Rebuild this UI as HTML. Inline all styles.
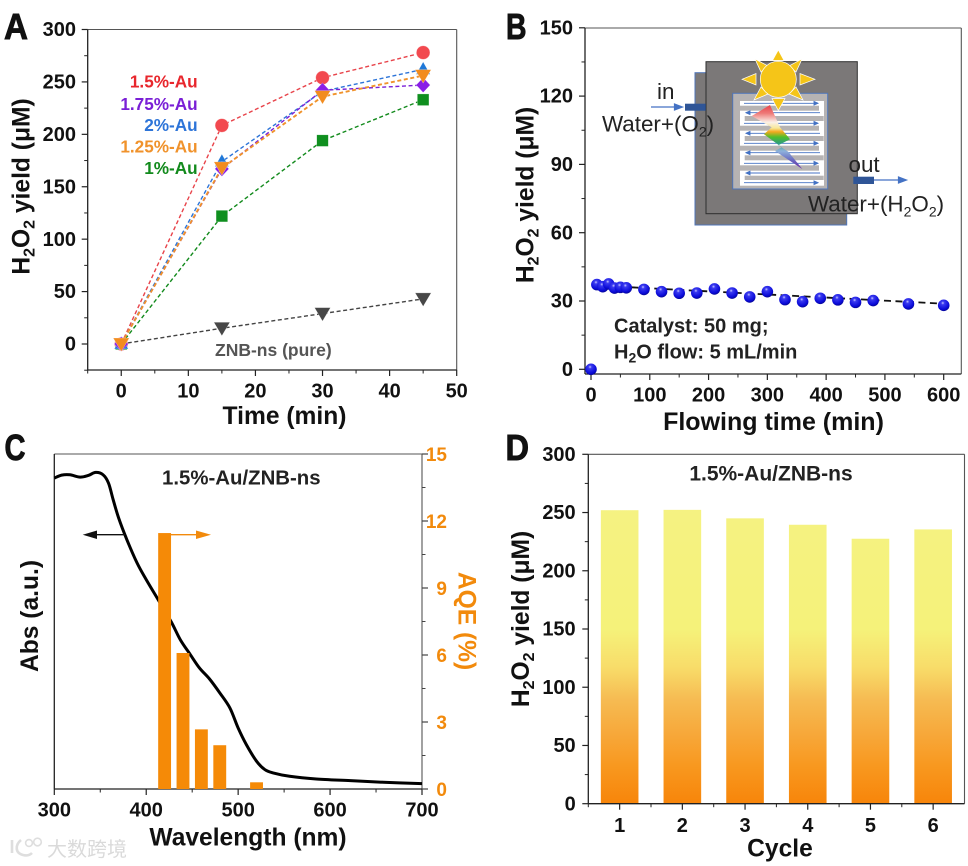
<!DOCTYPE html>
<html lang="en">
<head>
<meta charset="utf-8">
<title>H2O2 photosynthesis figure</title>
<style>
html,body{margin:0;padding:0;background:#fff;}
svg{display:block;position:absolute;left:0;top:0;}
text{font-family:"Liberation Sans","Noto Sans CJK SC",sans-serif;}
.letter{font-size:36px;font-weight:700;fill:#111;stroke:#111;stroke-width:0.9px;}
.title{font-size:24.6px;font-weight:700;fill:#111;}
.note{font-size:20px;font-weight:700;fill:#222;}
.leg{font-size:17.2px;font-weight:700;text-anchor:end;}
.schem{font-size:22.4px;fill:#222;}
</style>
</head>
<body>
<svg id="fig" width="968" height="866" viewBox="0 0 968 866" xmlns="http://www.w3.org/2000/svg">
<defs>
<radialGradient id="ball" cx="0.42" cy="0.3" r="0.72">
<stop offset="0" stop-color="#c9c9ff"/><stop offset="0.2" stop-color="#3a3af0"/><stop offset="0.75" stop-color="#0a0ad8"/><stop offset="1" stop-color="#06068f"/>
</radialGradient>
<linearGradient id="bolt" x1="0" y1="0" x2="0" y2="1">
<stop offset="0" stop-color="#e8434a"/><stop offset="0.13" stop-color="#ee7a78"/><stop offset="0.27" stop-color="#faf0e8"/><stop offset="0.36" stop-color="#f8e89a"/><stop offset="0.42" stop-color="#f2a81e"/><stop offset="0.5" stop-color="#4fbf2a"/><stop offset="0.6" stop-color="#2f9d7e"/><stop offset="0.72" stop-color="#8fb2dc"/><stop offset="0.86" stop-color="#6a6ac0"/><stop offset="1" stop-color="#6a2aa8"/>
</linearGradient>
<linearGradient id="barFill" gradientUnits="userSpaceOnUse" x1="0" y1="803.7" x2="0" y2="454.3">
<stop offset="0" stop-color="#f7850a"/><stop offset="0.107" stop-color="#f8981f"/><stop offset="0.2" stop-color="#f7a83a"/><stop offset="0.297" stop-color="#f6bb52"/><stop offset="0.393" stop-color="#f8dd6a"/><stop offset="0.5" stop-color="#f5f27a"/><stop offset="1" stop-color="#f5f285"/>
</linearGradient>
</defs>

<!-- Panel letters -->
<text class="letter" x="4" y="39" textLength="24" lengthAdjust="spacingAndGlyphs">A</text>
<text class="letter" x="506" y="39" textLength="20.5" lengthAdjust="spacingAndGlyphs">B</text>
<text class="letter" x="4.5" y="460" textLength="21" lengthAdjust="spacingAndGlyphs">C</text>
<text class="letter" x="505.5" y="460" textLength="23.5" lengthAdjust="spacingAndGlyphs">D</text>

<!-- Schematic in panel B -->
<g id="schematic">
<rect x="695" y="72.7" width="151.7" height="152.3" fill="#7b7878" stroke="#4f75b8" stroke-width="1"/>
<rect x="706" y="61.7" width="151.3" height="152" fill="#7b7878" stroke="#2e2e2e" stroke-width="1"/>
<rect x="732.7" y="93.3" width="95" height="95.7" fill="#b6b3b3" stroke="#4f75b8" stroke-width="1"/>
<rect x="740" y="101" width="84" height="84.7" fill="#fff"/>
<g fill="#b6b3b3">
<rect x="740" y="105.7" width="79" height="5"/><rect x="744.7" y="116" width="79" height="5"/>
<rect x="740" y="125.7" width="79" height="5"/><rect x="744.7" y="136" width="79" height="5"/>
<rect x="740" y="145.7" width="79" height="5"/><rect x="744.7" y="155.3" width="79" height="5"/>
<rect x="740" y="165.3" width="79" height="5.4"/><rect x="744.7" y="175.7" width="79" height="4.3"/>
</g>
<g stroke="#4472c4" stroke-width="0.9" fill="#4472c4">
<path d="M744 103.3H818"/><path d="M818 103.3l-4-1.8v3.6z"/>
<path d="M746 112.7H820"/><path d="M746 112.7l4-1.8v3.6z"/>
<path d="M744 123.3H818"/><path d="M818 123.3l-4-1.8v3.6z"/>
<path d="M746 133.3H820"/><path d="M746 133.3l4-1.8v3.6z"/>
<path d="M744 143.3H818"/><path d="M818 143.3l-4-1.8v3.6z"/>
<path d="M746 152.7H820"/><path d="M746 152.7l4-1.8v3.6z"/>
<path d="M744 163.3H818"/><path d="M818 163.3l-4-1.8v3.6z"/>
<path d="M746 173H820"/><path d="M746 173l4-1.8v3.6z"/>
<path d="M744 182.7H818"/><path d="M818 182.7l-4-1.8v3.6z"/>
</g>
<polygon points="751.7,116 770,105 780,127.3 790,139.3 778.3,145.3 788.3,151.7 802.3,169 775,151 781.7,147.3 764,134.3 771.7,127.3" fill="url(#bolt)"/>
<g fill="#f5c518" stroke="#fff" stroke-width="0.7">
<polygon points="778.3,50 772.5,60.5 784,60.5"/><polygon points="778.3,110.5 772,98.5 785,98.5"/>
<polygon points="742,79.3 756,73.5 756,85"/><polygon points="815,79.3 800,73.5 800,85"/>
<polygon points="755,59 768,66 761,72"/><polygon points="802,59 789,66 796,72"/>
<polygon points="754,100 761,87 768,94"/><polygon points="803,100 796,87 789,94"/>
<circle cx="778.3" cy="79.3" r="18" />
</g>
<rect x="685" y="103.7" width="20.7" height="7" fill="#2f5597"/>
<rect x="853.3" y="176.7" width="20.7" height="7.3" fill="#2f5597"/>
<g stroke="#4472c4" stroke-width="1.2" fill="#4472c4">
<path d="M651 107H675"/><path d="M682.5 107l-8-3v6z"/>
<path d="M874 180H899"/><path d="M906.5 180l-8-3v6z"/>
</g>
<text class="schem" x="657" y="99">in</text>
<text class="schem" x="602" y="131.5">Water+(O<tspan font-size="14" dy="5">2</tspan><tspan dy="-5">)</tspan></text>
<text class="schem" x="848.5" y="172">out</text>
<text class="schem" x="808" y="211.5">Water+(H<tspan font-size="14" dy="5">2</tspan><tspan dy="-5">O</tspan><tspan font-size="14" dy="5">2</tspan><tspan dy="-5">)</tspan></text>
</g>

<!-- Axis titles -->
<text class="title" x="284.5" y="424" text-anchor="middle">Time (min)</text>
<text class="title" transform="translate(29.5,186.5) rotate(-90)" text-anchor="middle">H<tspan font-size="16" dy="5">2</tspan><tspan dy="-5">O</tspan><tspan font-size="16" dy="5">2</tspan><tspan dy="-5"> yield (μM)</tspan></text>
<text class="title" x="773.5" y="430" text-anchor="middle" style="font-size:25px">Flowing time (min)</text>
<text class="title" transform="translate(533.5,195) rotate(-90)" text-anchor="middle">H<tspan font-size="16" dy="5">2</tspan><tspan dy="-5">O</tspan><tspan font-size="16" dy="5">2</tspan><tspan dy="-5"> yield (μM)</tspan></text>
<text class="title" x="248" y="845.5" text-anchor="middle">Wavelength (nm)</text>
<text class="title" transform="translate(38,616) rotate(-90)" text-anchor="middle">Abs (a.u.)</text>
<text class="title" transform="translate(458.5,621) rotate(90)" text-anchor="middle" style="fill:#f28a0c">AQE (%)</text>
<text class="title" x="780" y="856.3" text-anchor="middle">Cycle</text>
<text class="title" transform="translate(529,619) rotate(-90)" text-anchor="middle">H<tspan font-size="16" dy="5">2</tspan><tspan dy="-5">O</tspan><tspan font-size="16" dy="5">2</tspan><tspan dy="-5"> yield (μM)</tspan></text>

<!-- Annotations -->
<text class="leg" x="197.7" y="87.7" fill="#e8262c">1.5%-Au</text>
<text class="leg" x="197.7" y="110" fill="#7a1fd6">1.75%-Au</text>
<text class="leg" x="197.7" y="131" fill="#2d74d8">2%-Au</text>
<text class="leg" x="197.7" y="152.7" fill="#f0922b">1.25%-Au</text>
<text class="leg" x="197.7" y="174" fill="#128a1c">1%-Au</text>
<text x="215" y="356" font-size="17.5" font-weight="700" fill="#555">ZNB-ns (pure)</text>
<text class="note" x="614" y="332.7">Catalyst: 50 mg;</text>
<text class="note" x="614" y="358.5">H<tspan font-size="14" dy="4">2</tspan><tspan dy="-4">O flow: 5 mL/min</tspan></text>
<text x="162" y="484.7" font-size="20.4" font-weight="700" fill="#222">1.5%-Au/ZNB-ns</text>
<text x="771" y="480.7" font-size="21" font-weight="700" fill="#222" text-anchor="middle">1.5%-Au/ZNB-ns</text>

<!-- Watermark -->
<g>
<path d="M12 840v13" fill="none" stroke="#dedede" stroke-width="2.6"/>
<path d="M21 840c-6 5-6 13 2 15 4 1 7 0 9-2" fill="none" stroke="#dedede" stroke-width="2.6"/>
<circle cx="29" cy="843" r="3.4" fill="none" stroke="#dedede" stroke-width="1.6"/>
<circle cx="37.5" cy="842" r="3.8" fill="none" stroke="#dedede" stroke-width="1.6"/>
<text x="47" y="856" font-size="20" fill="#dadada">大数跨境</text>
</g>
</svg>

<script>
// ---- Panel A data ----
const timesA = [0, 15, 30, 45];
const yield15Au = [0, 208.5, 254, 278];
const yield2Au = [0, 174, 241, 262];
const yield175Au = [0, 167, 242, 247];
const yield125Au = [0, 168, 236, 256];
const yield1Au = [0, 122, 194, 233];
const yieldPure = [0, 15, 29, 43];
const ticksAX = [0, 10, 20, 30, 40, 50];
const ticksAY = [0, 50, 100, 150, 200, 250, 300];
// ---- Panel B data ----
const timesB = [0, 10, 20, 30, 40, 50, 60, 90, 120, 150, 180, 210, 240, 270, 300, 330, 360, 390, 420, 450, 480, 540, 600];
const yieldB = [0, 37.2, 36.3, 37.5, 35.7, 36, 35.8, 35.1, 34.1, 33.4, 33.5, 35.3, 33.5, 31.8, 34.1, 30.6, 29.7, 31.2, 30.5, 29.4, 30.2, 28.7, 28.1];
const fitTimesB = [10, 600];
const fitYieldB = [36.8, 28.8];
const ticksBX = [0, 100, 200, 300, 400, 500, 600];
const ticksBY = [0, 30, 60, 90, 120, 150];
// ---- Panel C data ----
const wavelengths = [300, 308, 317, 328, 337, 345, 353, 359, 364, 370, 379, 390, 400, 413, 427, 437, 448, 458, 469, 480, 491, 500, 509, 520, 529, 538, 556, 585, 622, 658, 700];
const absorbance = [92.8, 93.7, 93.8, 93.1, 93.6, 94.5, 93.8, 91.3, 86.4, 80.9, 74.4, 67.5, 62.5, 56.5, 50, 44.6, 40.1, 36.1, 32.8, 28.7, 24.2, 18.2, 13.2, 8.3, 5.8, 4.8, 3.8, 3, 2.5, 2, 1.6];
const aqeWavelengths = [420, 440, 460, 480, 520];
const aqeValues = [11.46, 6.09, 2.67, 1.96, 0.3];
const ticksCX = [300, 400, 500, 600, 700];
const ticksCY = [0, 3, 6, 9, 12, 15];
// ---- Panel D data ----
const cycles = [1, 2, 3, 4, 5, 6];
const cycleYield = [252, 252.3, 245, 239.5, 227.5, 235.5];
const ticksDY = [0, 50, 100, 150, 200, 250, 300];

const NS = 'http://www.w3.org/2000/svg';
const fig = document.getElementById('fig');

function linear(d0, d1, p0, p1) {
  return function (v) { return p0 + (v - d0) * (p1 - p0) / (d1 - d0); };
}
function shape(tag, attrs, name, parent) {
  const el = document.createElementNS(NS, tag);
  for (const k in attrs) el.setAttribute(k, attrs[k]);
  
  
  (parent || fig).appendChild(el);
  return el;
}
function label(str, x, y, anchor, size, fill, name) {
  const el = document.createElementNS(NS, 'text');
  el.textContent = str;
  el.setAttribute('x', x);
  el.setAttribute('y', y);
  el.setAttribute('text-anchor', anchor);
  el.setAttribute('font-size', size);
  el.setAttribute('font-weight', '700');
  el.setAttribute('fill', fill);
  
  
  fig.appendChild(el);
  return el;
}
function seg(x1, y1, x2, y2, color, w, name) {
  return shape('line', { x1: x1, y1: y1, x2: x2, y2: y2, stroke: color, 'stroke-width': w }, name);
}
function frame(l, t, r, b, name) {
  seg(l, t, r, t, '#555', 1.1, name + '-top-border');
  seg(r, t, r, b, '#555', 1.1, name + '-right-border');
  seg(l, b, r, b, '#222', 1.3, name + '-bottom-axis');
  seg(l, t, l, b, '#222', 1.3, name + '-left-axis');
}
function xTicks(sx, values, minorStep, b, labelY, prefix) {
  values.forEach(function (v) {
    seg(sx(v), b, sx(v), b + 6, '#222', 1.2, prefix + '-x-tick-' + v);
    label(String(v), sx(v), labelY, 'middle', 20, '#111', prefix + '-x-tick-label-' + v);
  });
  const first = sx.domain0, last = sx.domain1;
  for (let v = first; v <= last + 1e-6; v += minorStep) {
    if (values.indexOf(v) < 0) seg(sx(v), b, sx(v), b + 3.5, '#222', 1, prefix + '-x-minor-tick');
  }
}
function yTicks(sy, values, l, labelX, prefix) {
  values.forEach(function (v, i) {
    seg(l - 6, sy(v), l, sy(v), '#222', 1.2, prefix + '-y-tick-' + v);
    label(String(v), labelX, sy(v) + 6.6, 'end', 20, '#111', prefix + '-y-tick-label-' + v);
    if (i < values.length - 1) {
      const mid = (v + values[i + 1]) / 2;
      seg(l - 3.5, sy(mid), l, sy(mid), '#222', 1, prefix + '-y-minor-tick');
    }
  });
}
function pathFrom(xs, ys, sx, sy) {
  return xs.map(function (x, i) { return (i ? 'L' : 'M') + sx(x).toFixed(2) + ' ' + sy(ys[i]).toFixed(2); }).join('');
}
function smoothPath(xs, ys, sx, sy) {
  const p = xs.map(function (x, i) { return [sx(x), sy(ys[i])]; });
  let d = 'M' + p[0][0].toFixed(2) + ' ' + p[0][1].toFixed(2);
  for (let i = 0; i < p.length - 1; i++) {
    const a = p[Math.max(i - 1, 0)], b = p[i], c = p[i + 1], e = p[Math.min(i + 2, p.length - 1)];
    const c1x = b[0] + (c[0] - a[0]) / 6, c1y = b[1] + (c[1] - a[1]) / 6;
    const c2x = c[0] - (e[0] - b[0]) / 6, c2y = c[1] - (e[1] - b[1]) / 6;
    d += 'C' + c1x.toFixed(2) + ' ' + c1y.toFixed(2) + ' ' + c2x.toFixed(2) + ' ' + c2y.toFixed(2) + ' ' + c[0].toFixed(2) + ' ' + c[1].toFixed(2);
  }
  return d;
}

// ---------- Panel A ----------
(function () {
  const sx = linear(-5, 50, 87.7, 456.7);
  sx.domain0 = -5; sx.domain1 = 50;
  const sy = linear(0, 300, 344, 29.5);
  const b = 370;
  frame(87.7, 29.5, 456.7, b, 'panel-a');
  xTicks(sx, ticksAX, 5, b, 397.7, 'panel-a');
  yTicks(sy, ticksAY, 87.7, 76, 'panel-a');
  seg(87.7 - 3.5, sy(-25), 87.7, sy(-25), '#222', 1, 'panel-a-y-minor-tick');

  function series(ys, lineColor, fill, kind, name, width) {
    shape('path', { d: pathFrom(timesA, ys, sx, sy), fill: 'none', stroke: lineColor, 'stroke-width': width || 1.4, 'stroke-dasharray': '4 2.6' }, name + '-line');
    timesA.forEach(function (t, i) {
      const x = sx(t), y = sy(ys[i]);
      const common = { fill: fill, stroke: '#fff', 'stroke-width': 0.5, 'stroke-opacity': 0.5 };
      let a;
      if (kind === 'circle') {
        a = Object.assign({ cx: x, cy: y, r: 6.8 }, common);
        shape('circle', a, name + '-point-' + t);
      } else if (kind === 'square') {
        a = Object.assign({ x: x - 5.8, y: y - 5.8, width: 11.6, height: 11.6 }, common);
        shape('rect', a, name + '-point-' + t);
      } else {
        let p;
        if (kind === 'up') p = [[x, y - 7.5], [x + 7, y + 5], [x - 7, y + 5]];
        if (kind === 'down') p = [[x, y + 7.5], [x + 8, y - 6], [x - 8, y - 6]];
        if (kind === 'diamond') p = [[x, y - 7.5], [x + 7, y], [x, y + 7.5], [x - 7, y]];
        a = Object.assign({ points: p.map(function (q) { return q.join(','); }).join(' ') }, common);
        shape('polygon', a, name + '-point-' + t);
      }
    });
  }
  series(yieldPure, '#444', '#474747', 'down', 'series-znb-pure');
  series(yield15Au, '#e8434a', '#f2494f', 'circle', 'series-1-5-au');
  series(yield1Au, '#128a1c', '#0f8f1f', 'square', 'series-1-au');
  series(yield2Au, '#2d74d8', '#1f78d8', 'up', 'series-2-au');
  series(yield175Au, '#7a1fd6', '#8a1ee6', 'diamond', 'series-1-75-au');
  series(yield125Au, '#f0922b', '#f28c1f', 'down', 'series-1-25-au', 1.9);
})();

// ---------- Panel B ----------
(function () {
  const sx = linear(0, 600, 591, 943.7);
  sx.domain0 = 0; sx.domain1 = 600;
  const sy = linear(0, 150, 369.3, 27.8);
  const b = 374;
  frame(585, 28, 961.3, b, 'panel-b');
  xTicks(sx, ticksBX, 50, b, 401.7, 'panel-b');
  yTicks(sy, ticksBY, 585, 573, 'panel-b');
  shape('path', { d: pathFrom(fitTimesB, fitYieldB, sx, sy), fill: 'none', stroke: '#111', 'stroke-width': 1.8, 'stroke-dasharray': '7 4.5' }, 'panel-b-fit-line');
  timesB.forEach(function (t, i) {
    shape('circle', { cx: sx(t), cy: sy(yieldB[i]), r: 5.8, fill: 'url(#ball)' }, 'panel-b-point-' + t);
  });
})();

// ---------- Panel C ----------
(function () {
  const sx = linear(300, 700, 54.3, 422);
  sx.domain0 = 300; sx.domain1 = 700;
  const syAbs = linear(0, 100, 789, 454);
  const syAqe = linear(0, 15, 789, 454);
  const b = 789;
  frame(54.3, 454, 422, b, 'panel-c');
  xTicks(sx, ticksCX, 50, b, 816.3, 'panel-c');
  ticksCY.forEach(function (v, i) {
    seg(422, syAqe(v), 428, syAqe(v), '#444', 1.2, 'panel-c-right-tick-' + v);
    label(String(v), 447, syAqe(v) + 7, 'end', 19, '#f28a0c', 'panel-c-right-tick-label-' + v);
    if (i < ticksCY.length - 1) {
      seg(422, syAqe(v + 1.5), 425.5, syAqe(v + 1.5), '#444', 1, 'panel-c-right-minor-tick');
    }
  });
  shape('path', { d: smoothPath(wavelengths, absorbance, sx, syAbs), fill: 'none', stroke: '#000', 'stroke-width': 3, 'stroke-linejoin': 'round' }, 'abs-curve');
  seg(97, 534.7, 125, 534.7, '#111', 1.3, 'abs-arrow-line');
  shape('polygon', { points: '82.7,534.7 97,530.5 97,539', fill: '#111' }, 'abs-arrow-head');
  seg(171, 534.7, 197, 534.7, '#f28a0c', 1.3, 'aqe-arrow-line');
  shape('polygon', { points: '211,534.7 196,530.5 196,539', fill: '#f28a0c' }, 'aqe-arrow-head');
  const halfWidth = 7;
  aqeWavelengths.forEach(function (w, i) {
    const top = syAqe(aqeValues[i]);
    shape('rect', { x: sx(w - halfWidth), y: top, width: sx(w + halfWidth) - sx(w - halfWidth), height: syAqe(0) - top, fill: '#f58a07' }, 'aqe-bar-' + w);
  });
})();

// ---------- Panel D ----------
(function () {
  const sx = linear(0.5, 6.5, 588.3, 964.5);
  sx.domain0 = 0.5; sx.domain1 = 6.5;
  const sy = linear(0, 300, 803.7, 454.3);
  const b = 803.7;
  cycles.forEach(function (c, i) {
    const top = sy(cycleYield[i]);
    shape('rect', { x: sx(c - 0.3), y: top, width: sx(c + 0.3) - sx(c - 0.3), height: b - top, fill: 'url(#barFill)' }, 'cycle-bar-' + c);
  });
  frame(588.3, 454.3, 964.5, b, 'panel-d');
  cycles.forEach(function (c) {
    seg(sx(c), b, sx(c), b + 6, '#222', 1.2, 'panel-d-x-tick-' + c);
    label(String(c), sx(c), 832, 'middle', 20, '#111', 'panel-d-x-tick-label-' + c);
    seg(sx(c - 0.5), b, sx(c - 0.5), b + 3.5, '#222', 1, 'panel-d-x-minor-tick');
  });
  yTicks(sy, ticksDY, 588.3, 575.7, 'panel-d');
})();
</script>
</body>
</html>
